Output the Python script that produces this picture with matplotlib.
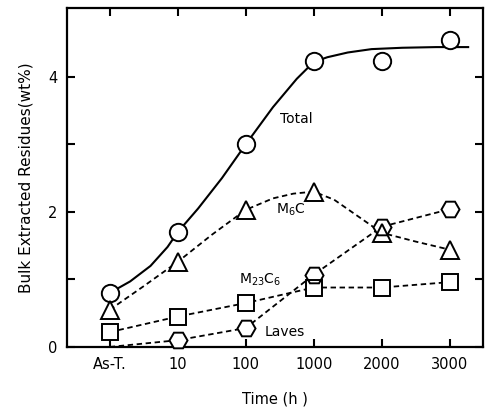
import matplotlib
matplotlib.use("Agg")
import matplotlib.pyplot as plt
import numpy as np

plt.rcParams['font.family'] = ['DejaVu Sans']
plt.rcParams['mathtext.default'] = 'regular'

# categories on the time axis (evenly spaced)
times = ["As-T.", "10", "100", "1000", "2000", "3000"]
pos = np.arange(len(times))

# measured points (wt%)
total = [0.80, 1.70, 3.00, 4.24, 4.24, 4.54]
m6c = [0.55, 1.26, 2.03, 2.30, 1.69, 1.44]
m23c6 = [0.22, 0.45, 0.65, 0.88, 0.88, 0.96]
laves = [0.00, 0.10, 0.28, 1.07, 1.78, 2.04]

# hand drawn trend curves (position, wt%)
total_curve_x = [0, 0.3, 0.6, 0.85, 1.0, 1.3, 1.65, 2.0, 2.4, 2.75, 3.0, 3.2, 3.5, 3.85, 4.3, 4.8, 5.27]
total_curve_y = [0.80, 0.97, 1.20, 1.48, 1.70, 2.05, 2.50, 3.00, 3.55, 3.97, 4.22, 4.29, 4.36, 4.41, 4.43, 4.44, 4.44]
m6c_curve_x = [0, 0.5, 1.0, 1.5, 2.0, 2.4, 2.7, 3.0, 3.3, 3.6, 4.0, 4.5, 5.0]
m6c_curve_y = [0.55, 0.90, 1.26, 1.66, 2.03, 2.20, 2.27, 2.30, 2.18, 1.97, 1.69, 1.56, 1.44]

fig = plt.figure(figsize=(4.88, 4.17), dpi=100)
ax = fig.add_axes([0.137, 0.168, 0.853, 0.813])

dash = (0, (3, 2))
ax.plot(total_curve_x, total_curve_y, color='black', lw=1.5, zorder=2)
ax.plot(m6c_curve_x, m6c_curve_y, color='black', lw=1.3, ls=dash, zorder=2)
ax.plot(pos, m23c6, color='black', lw=1.3, ls=dash, zorder=2)
ax.plot(pos, laves, color='black', lw=1.3, ls=dash, zorder=2)

series = [(total, 'o', 12.5, list(range(6))),
          (m6c, '^', 12.5, list(range(6))),
          (m23c6, 's', 11, list(range(6))),
          (laves, 'H', 13, list(range(1, 6)))]
for vals, mk, size, idx in series:
    xs = pos[idx]
    ys = np.array(vals)[idx]
    # white fill hides the lines inside the symbols
    ax.plot(xs, ys, ls='none', marker=mk, ms=size, mfc='white', mec='white',
            mew=0, zorder=3, clip_on=False)
for vals, mk, size, idx in series:
    xs = pos[idx]
    ys = np.array(vals)[idx]
    ax.plot(xs, ys, ls='none', marker=mk, ms=size, mfc='none', mec='black',
            mew=1.4, zorder=4, clip_on=False)

ax.text(2.5, 3.38, "Total", fontsize=10, va='center', ha='left')
ax.text(2.45, 2.03, "M$_6$C", fontsize=10, va='center', ha='left')
ax.text(1.9, 1.0, "M$_{23}$C$_6$", fontsize=10, va='center', ha='left')
ax.text(2.28, 0.22, "Laves", fontsize=10, va='center', ha='left')

ax.set_xlim(-0.63, 5.49)
ax.set_ylim(0, 5.02)
ax.set_xticks(pos)
ax.set_xticklabels(times, fontsize=10.5)
ax.set_yticks([0, 2, 4])
ax.set_yticklabels(["0", "2", "4"], fontsize=10.5)
ax.set_yticks([1, 3], minor=True)
ax.tick_params(which='both', direction='in', length=6, width=1.5,
               top=True, right=True, pad=7)
for s in ax.spines.values():
    s.set_linewidth(1.6)

ax.set_ylabel("Bulk Extracted Residues(wt%)", fontsize=11, labelpad=10)
ax.set_xlabel("Time (h )", fontsize=10.5, labelpad=14)

fig.savefig("out.png", dpi=100)
